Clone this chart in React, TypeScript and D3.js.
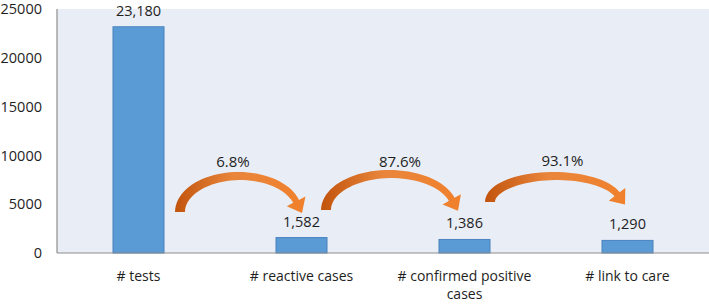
import React from "react";
import * as d3 from "d3";

const categories = ["# tests", "# reactive cases", "# confirmed positive cases", "# link to care"];
const values = [23180, 1582, 1386, 1290];
const valueLabels = ["23,180", "1,582", "1,386", "1,290"];
const conversionLabels = ["6.8%", "87.6%", "93.1%"];
const yTicks = [0, 5000, 10000, 15000, 20000, 25000];

const W = 709;
const H = 305;
const M = { left: 57, right: 0, top: 9, bottom: 52 };
const FONT = "'Open Sans', 'Noto Sans', sans-serif";
const TEXT = "#1e1e1e";

// annotation geometry (pixel offsets relative to band centres / baselines)
const arrowGeom = [
  { startDx: 41.5, tipDx: 0.5, base: 212, top: 172, labelDx: -8, labelY: 167 },
  { startDx: 24.5, tipDx: -6.5, base: 210, top: 170, labelDx: 8, labelY: 167 },
  { startDx: 25.5, tipDx: -2.5, base: 202, top: 172, labelDx: 5, labelY: 166 },
];

function wrap(s: string, max: number): string[] {
  const words = s.split(" ");
  const lines: string[] = [];
  let cur = "";
  for (const w of words) {
    const t = cur ? cur + " " + w : w;
    if (t.length > max && cur) {
      lines.push(cur);
      cur = w;
    } else cur = t;
  }
  if (cur) lines.push(cur);
  return lines;
}

function arrowPath(x0: number, xt: number, yb: number, ytop: number) {
  const w0 = 10, w1 = 6.5, headHalf = 10.5, headLen = 13;
  const th1 = 0.3;
  const ry = yb - ytop - 4;
  let rx = (xt - x0) / (1 + Math.cos(th1));
  for (let k = 0; k < 5; k++) {
    const dx = rx * Math.sin(th1), dy = ry * Math.cos(th1);
    const l = Math.hypot(dx, dy);
    rx = (xt - x0 - headLen * (dx / l)) / (1 + Math.cos(th1));
  }
  const cx = x0 + rx, cy = yb;
  const N = 40;
  const outer: [number, number][] = [];
  const inner: [number, number][] = [];
  let E: [number, number] = [0, 0];
  let D: [number, number] = [0, 0];
  for (let i = 0; i <= N; i++) {
    const t = i / N;
    const th = Math.PI + (th1 - Math.PI) * t;
    const px = cx + rx * Math.cos(th), py = cy - ry * Math.sin(th);
    let dx = rx * Math.sin(th), dy = ry * Math.cos(th);
    const l = Math.hypot(dx, dy);
    dx /= l; dy /= l;
    const nx = dy, ny = -dx;
    const w = w0 + (w1 - w0) * t;
    outer.push([px + nx * w / 2, py + ny * w / 2]);
    inner.push([px - nx * w / 2, py - ny * w / 2]);
    E = [px, py];
    D = [dx, dy];
  }
  const n: [number, number] = [D[1], -D[0]];
  const hb1: [number, number] = [E[0] + n[0] * headHalf, E[1] + n[1] * headHalf];
  const hb2: [number, number] = [E[0] - n[0] * headHalf, E[1] - n[1] * headHalf];
  const tip: [number, number] = [E[0] + D[0] * headLen, E[1] + D[1] * headLen];
  const pts = [...outer, hb1, tip, hb2, ...inner.reverse()];
  return "M" + pts.map((p) => p[0].toFixed(2) + "," + p[1].toFixed(2)).join("L") + "Z";
}

export default function App() {
  const x = d3
    .scaleBand<string>()
    .domain(categories)
    .range([M.left, W - M.right])
    .paddingInner(0.687)
    .paddingOuter(0.3435);
  const y = d3.scaleLinear().domain([0, 25000]).range([H - M.bottom, M.top]);
  const bw = x.bandwidth();
  const center = (c: string) => (x(c) as number) + bw / 2;

  return (
    <svg
      width={W}
      height={H}
      style={{ position: "absolute", left: 0, top: 0, background: "#fff" }}
      fontFamily={FONT}
    >
      <defs>
        <linearGradient id="arrGrad" x1="0" y1="0" x2="1" y2="0">
          <stop offset="0" stopColor="#c2540d" />
          <stop offset="0.45" stopColor="#e9863c" />
          <stop offset="1" stopColor="#f0802c" />
        </linearGradient>
      </defs>
      <rect
        x={M.left}
        y={M.top}
        width={W - M.right - M.left}
        height={y(0) - M.top}
        fill="#e9edf5"
      />
      {values.map((v, i) => (
        <rect
          key={i}
          x={x(categories[i])}
          y={y(v)}
          width={bw}
          height={y(0) - y(v)}
          fill="#5b9bd5"
          stroke="#4a84bf"
          strokeWidth={1}
        />
      ))}
      <line x1={M.left} x2={M.left} y1={M.top} y2={y(0)} stroke="#8e8e8e" strokeWidth={1.2} />
      <line x1={M.left} x2={W - M.right} y1={y(0)} y2={y(0)} stroke="#8e8e8e" strokeWidth={1.2} />
      {yTicks.map((t) => (
        <text
          key={t}
          x={42}
          y={y(t)}
          dy="0.36em"
          textAnchor="end"
          fontSize={14.5}
          fill={TEXT}
        >
          {t}
        </text>
      ))}
      {values.map((v, i) => (
        <text
          key={i}
          x={center(categories[i])}
          y={y(v) - 11}
          textAnchor="middle"
          fontSize={14.5}
          fill={TEXT}
        >
          {valueLabels[i]}
        </text>
      ))}
      {categories.map((c) => (
        <text key={c} x={center(c)} y={281} textAnchor="middle" fontSize={14} fill={TEXT}>
          {wrap(c, 20).map((ln, j) => (
            <tspan key={j} x={center(c)} dy={j === 0 ? 0 : 17.5}>
              {ln}
            </tspan>
          ))}
        </text>
      ))}
      {conversionLabels.map((lab, i) => {
        const g = arrowGeom[i];
        const x0 = center(categories[i]) + g.startDx;
        const xt = center(categories[i + 1]) + g.tipDx;
        return (
          <g key={lab}>
            <path d={arrowPath(x0, xt, g.base, g.top)} fill="url(#arrGrad)" />
            <text
              x={(x0 + xt) / 2 + g.labelDx}
              y={g.labelY}
              textAnchor="middle"
              fontSize={15}
              fill={TEXT}
            >
              {lab}
            </text>
          </g>
        );
      })}
    </svg>
  );
}
